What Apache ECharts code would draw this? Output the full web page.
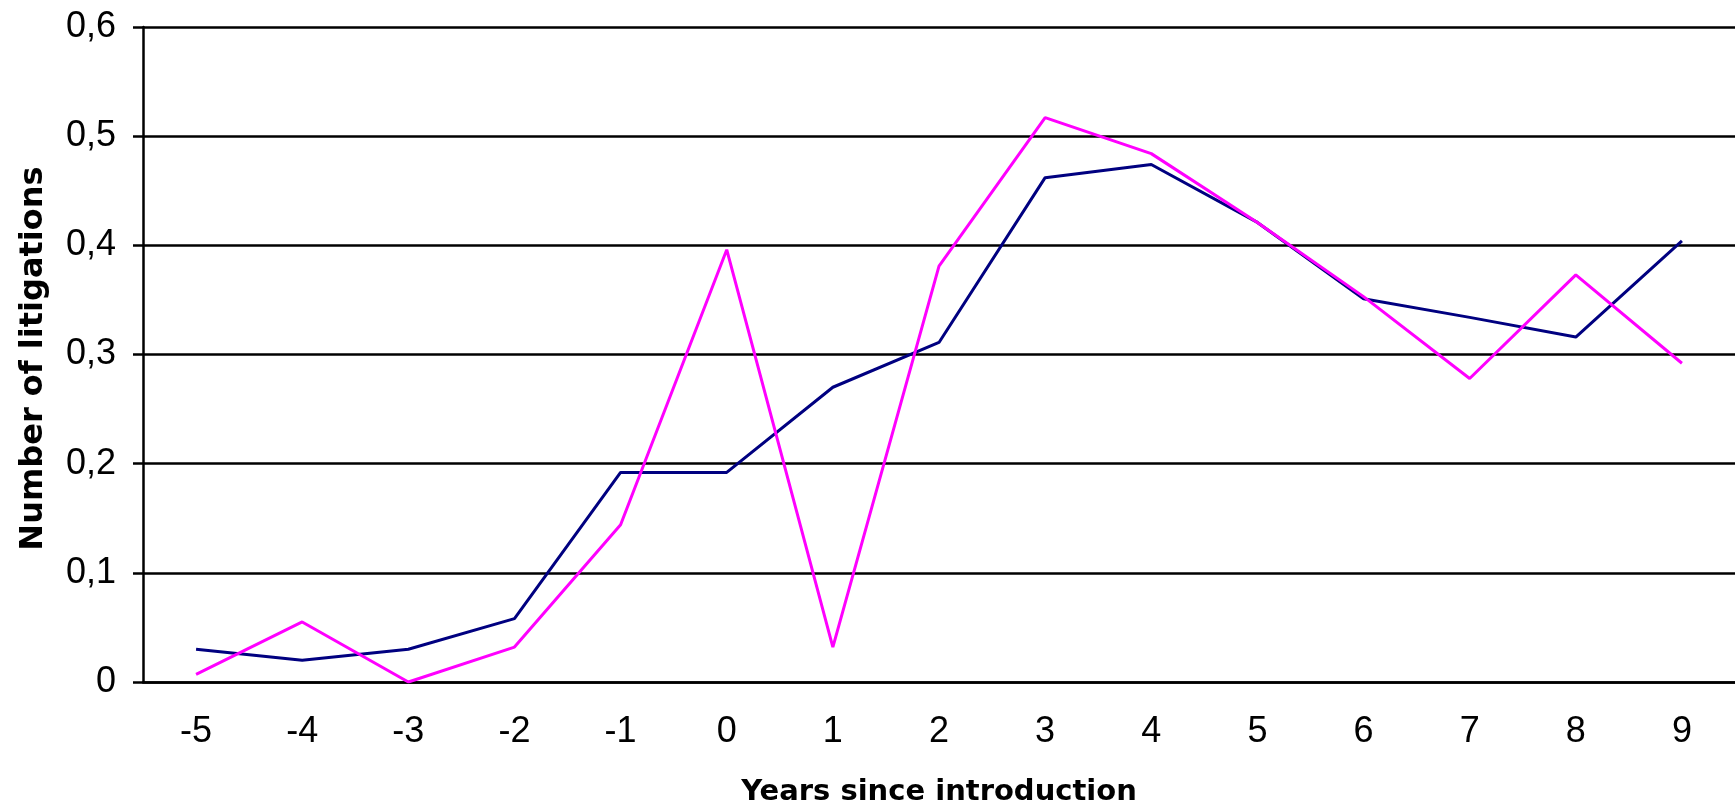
<html>
<head>
    <meta charset="utf-8">
    <title>Number of litigations</title>
    <style>
    html, body, #main {
        padding: 0;
        margin: 0;
        height: 100%;
        width: 100%;
        background: #fff;
    }
    </style>
    <script src="https://cdn.jsdelivr.net/npm/echarts@6/dist/echarts.min.js"></script>
</head>
<body>
    <div id="main"></div>
    <script>
    // years since introduction
    var years = ['-5', '-4', '-3', '-2', '-1', '0', '1', '2', '3', '4', '5', '6', '7', '8', '9'];
    // navy line
    var seriesNavy = [0.030, 0.020, 0.030, 0.058, 0.192, 0.192, 0.270, 0.311, 0.462, 0.474, 0.421, 0.351, 0.334, 0.316, 0.404];
    // magenta line
    var seriesMagenta = [0.007, 0.055, 0.000, 0.032, 0.144, 0.396, 0.032, 0.381, 0.517, 0.484, 0.421, 0.353, 0.278, 0.373, 0.292];

    var myChart = echarts.init(document.getElementById('main'));
    var option = {
        backgroundColor: '#fff',
        animation: false,
        grid: {
            left: 143,
            right: 0,
            top: 27,
            bottom: 129
        },
        xAxis: {
            type: 'category',
            data: years,
            name: 'Years since introduction',
            nameLocation: 'middle',
            nameGap: 96,
            nameTextStyle: {
                fontFamily: 'DejaVu Sans',
                fontWeight: 'bold',
                fontSize: 29,
                color: '#000'
            },
            axisLine: {
                lineStyle: { color: '#000', width: 2.5 }
            },
            axisTick: {
                length: 12,
                lineStyle: { color: '#000', width: 2.5 }
            },
            axisLabel: {
                interval: 0,
                margin: 32,
                fontFamily: 'Liberation Sans',
                fontSize: 36,
                color: '#000'
            },
            splitLine: { show: false }
        },
        yAxis: {
            type: 'value',
            min: 0,
            max: 0.6,
            interval: 0.1,
            name: 'Number of litigations',
            nameLocation: 'middle',
            nameGap: 93,
            nameTextStyle: {
                fontFamily: 'DejaVu Sans',
                fontWeight: 'bold',
                fontSize: 32,
                color: '#000',
                padding: [0, 8, 0, 0]
            },
            axisLine: {
                show: true,
                lineStyle: { color: '#000', width: 2.5 }
            },
            axisTick: {
                show: true,
                length: 10,
                lineStyle: { color: '#000', width: 2.5 }
            },
            axisLabel: {
                margin: 27,
                fontFamily: 'Liberation Sans',
                fontSize: 36,
                color: '#000',
                formatter: function (v) {
                    if (v === 0) return '0';
                    return v.toFixed(1).replace('.', ',');
                }
            },
            splitLine: {
                lineStyle: { color: '#000', width: 2.5 }
            }
        },
        series: [
            {
                name: 'navy',
                type: 'line',
                data: seriesNavy,
                symbol: 'none',
                lineStyle: { color: '#000080', width: 3 }
            },
            {
                name: 'magenta',
                type: 'line',
                data: seriesMagenta,
                symbol: 'none',
                lineStyle: { color: '#ff00ff', width: 3 }
            }
        ]
    };
    myChart.setOption(option);
    window.onresize = function () {
        myChart.resize();
    };
    </script>
</body>
</html>
